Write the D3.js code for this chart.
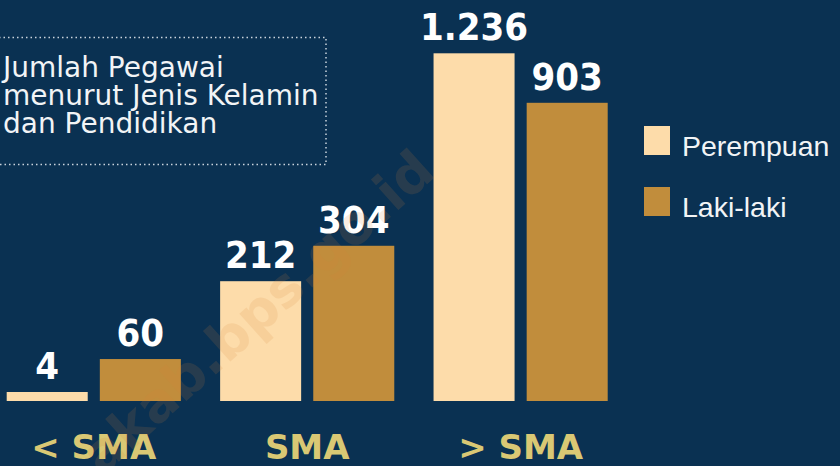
<!DOCTYPE html>
<html>
<head>
<meta charset="utf-8">
<script src="https://cdn.jsdelivr.net/npm/d3@7"></script>
<style>
  body { margin: 0; background: #0a3152; }
  svg { display: block; }
</style>
</head>
<body>
<div class="chart"></div>
<script>
const categories = ['< SMA', 'SMA', '> SMA'];
const series = ['Perempuan', 'Laki-laki'];
const perempuan = [4, 212, 1236];
const lakiLaki = [60, 304, 903];
const titleLines = ['Jumlah Pegawai', 'menurut Jenis Kelamin', 'dan Pendidikan'];

const width = 840, height = 466;
const baseY = 401;
const minBar = 9;

const data = categories.map((c, i) => ({cat: c, values: [
    {key: series[0], value: perempuan[i]},
    {key: series[1], value: lakiLaki[i]}
]}));

const svg = d3.select('.chart').append('svg')
    .attr('width', width)
    .attr('height', height);

svg.append('rect')
    .attr('width', width)
    .attr('height', height)
    .attr('fill', '#0a3152');

const x0 = d3.scaleBand()
    .domain(categories)
    .range([6.7, 607.7])
    .paddingInner(0.184)
    .paddingOuter(0);
const x1 = d3.scaleBand()
    .domain(series)
    .range([0, x0.bandwidth()])
    .paddingInner(0.13);
// bars in the original are drawn on a compressed (log-like) scale
const y = d3.scaleSymlog()
    .constant(250)
    .domain([0, 1236])
    .range([baseY, 53.3]);
const color = d3.scaleOrdinal()
    .domain(series)
    .range(['#fddcaa', '#c18d3c']);

const barTop = v => Math.min(y(v), baseY - minBar);

// title box
svg.append('rect')
    .attr('x', -10)
    .attr('y', 37.5)
    .attr('width', 336)
    .attr('height', 127)
    .attr('fill', 'none')
    .attr('stroke', '#c9d3dc')
    .attr('stroke-width', 1.5)
    .attr('stroke-dasharray', '1.5,3');

svg.append('g').selectAll('text')
    .data(titleLines)
    .enter()
    .append('text')
    .text(d => d)
    .attr('x', 3)
    .attr('y', (d, i) => 77 + i * 28)
    .attr('fill', '#f2f4f6')
    .attr('font-family', 'DejaVu Sans')
    .attr('font-size', 28);

const groups = svg.append('g').selectAll('g')
    .data(data)
    .enter()
    .append('g')
    .attr('transform', d => `translate(${x0(d.cat)},0)`);

groups.selectAll('rect')
    .data(d => d.values)
    .enter()
    .append('rect')
    .attr('x', d => x1(d.key))
    .attr('y', d => barTop(d.value))
    .attr('width', x1.bandwidth())
    .attr('height', d => baseY - barTop(d.value))
    .attr('fill', d => color(d.key));

groups.selectAll('text')
    .data(d => d.values)
    .enter()
    .append('text')
    .text(d => d3.format(',')(d.value).replace(',', '.'))
    .attr('x', d => x1(d.key) + x1.bandwidth() / 2)
    .attr('y', d => barTop(d.value) - 13)
    .attr('text-anchor', 'middle')
    .attr('fill', '#ffffff')
    .attr('font-family', 'DejaVu Sans Condensed, DejaVu Sans')
    .attr('font-weight', 'bold')
    .attr('font-size', 38);

svg.append('g').selectAll('text')
    .data(categories)
    .enter()
    .append('text')
    .text(d => d)
    .attr('x', d => x0(d) + x0.bandwidth() / 2)
    .attr('y', 459)
    .attr('text-anchor', 'middle')
    .attr('fill', '#d9c874')
    .attr('font-family', 'DejaVu Sans')
    .attr('font-weight', 'bold')
    .attr('font-size', 34);

// faint watermark over the bars
svg.append('text')
    .text('akab.bps.go.id')
    .attr('transform', 'translate(260,315) rotate(-42)')
    .attr('text-anchor', 'middle')
    .attr('dominant-baseline', 'middle')
    .attr('fill', '#d8843a')
    .attr('opacity', 0.14)
    .attr('font-family', 'DejaVu Sans')
    .attr('font-weight', 'bold')
    .attr('font-size', 54);

// legend
const legend = svg.append('g').selectAll('g')
    .data(series)
    .enter()
    .append('g')
    .attr('transform', (d, i) => `translate(644,${126 + i * 61})`);
legend.append('rect')
    .attr('width', 26)
    .attr('height', 29)
    .attr('fill', d => color(d));
legend.append('text')
    .text(d => d)
    .attr('x', 38)
    .attr('y', 30)
    .attr('fill', '#f2f4f6')
    .attr('font-family', 'Liberation Sans, Arial')
    .attr('font-size', 28.5);
</script>
</body>
</html>
